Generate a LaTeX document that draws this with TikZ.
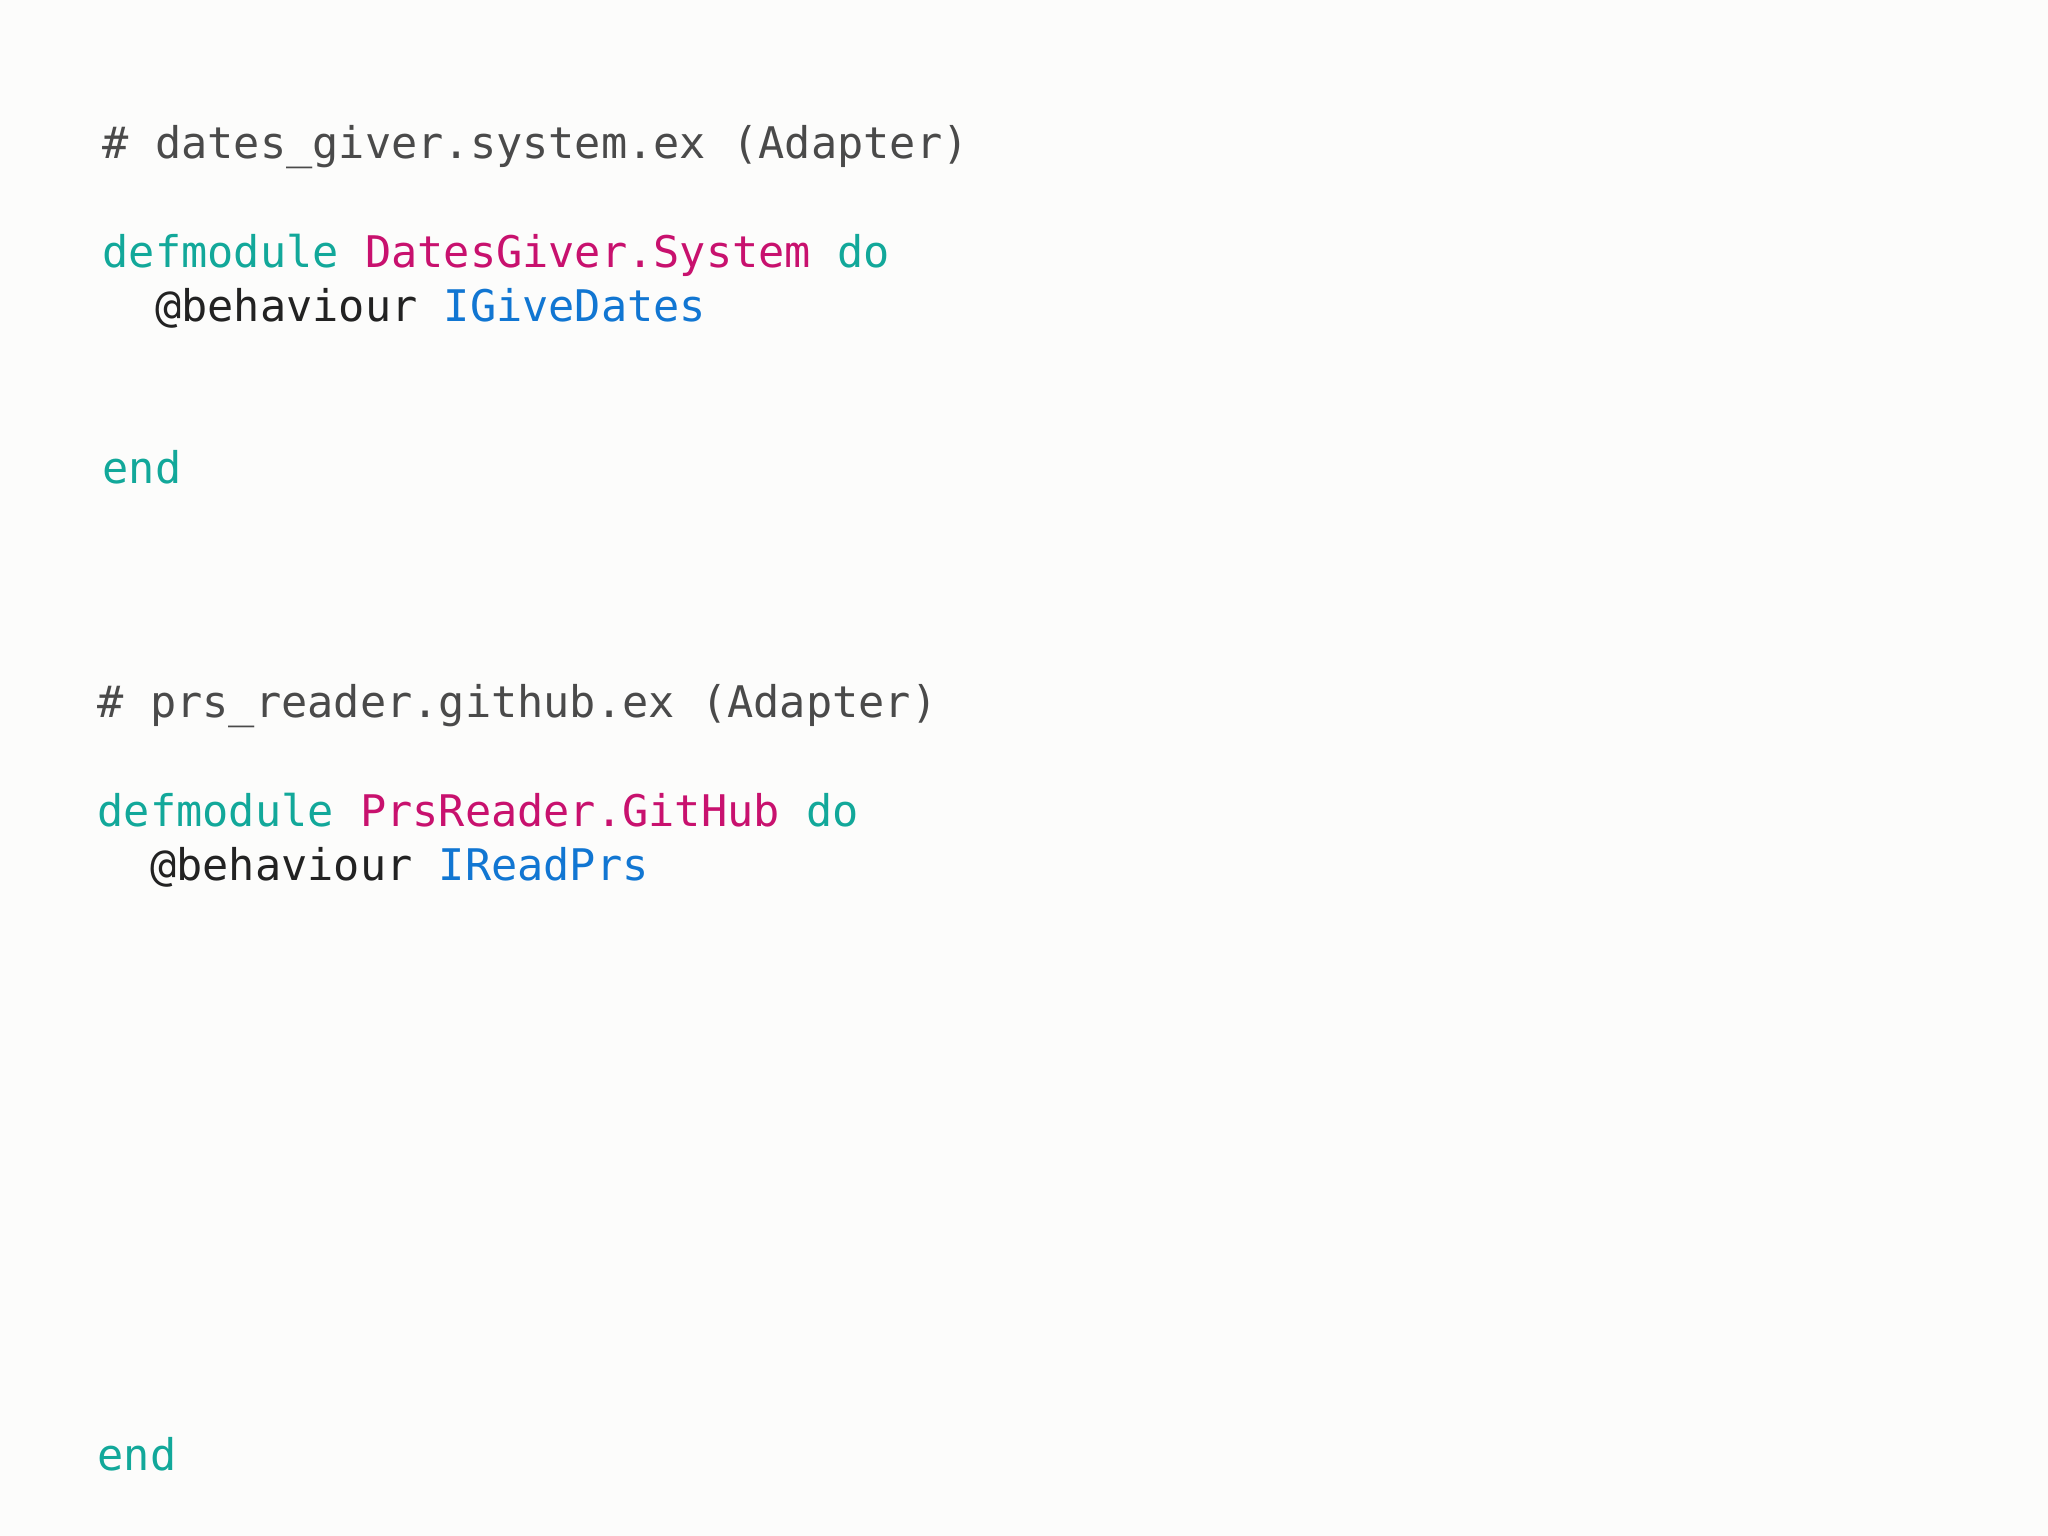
\documentclass[tikz,border=0pt]{standalone}
\usepackage{fontspec}
\setmonofont{DejaVu Sans Mono}
\definecolor{bgc}{HTML}{FCFCFB}
\definecolor{kw}{HTML}{12A89A}
\definecolor{mod}{HTML}{C8116E}
\definecolor{beh}{HTML}{1176D2}
\definecolor{cmt}{HTML}{4A4A4A}
\definecolor{txt}{HTML}{222222}
\begin{document}
\begin{tikzpicture}[x=1cm,y=1cm,
  code/.style={anchor=base west,inner sep=0pt,font=\ttfamily\fontsize{12.4}{14}\selectfont}]
\fill[bgc] (0,0) rectangle (20.48,-15.36);
\useasboundingbox (0,0) rectangle (20.48,-15.36);
\node[code,text=cmt] (c1) at (1.02,-1.59) {\# dates\_giver.system.ex (Adapter)};
\node[code] (d1) at (1.02,-2.68) {\textcolor{kw}{defmodule} \textcolor{mod}{DatesGiver.System} \textcolor{kw}{do}};
\node[code] (b1) at (1.02,-3.22) {\textcolor{txt}{\ \ @behaviour} \textcolor{beh}{IGiveDates}};
\node[code,text=kw] (e1) at (1.02,-4.84) {end};
\node[code,text=cmt] (c2) at (0.97,-7.18) {\# prs\_reader.github.ex (Adapter)};
\node[code] (d2) at (0.97,-8.27) {\textcolor{kw}{defmodule} \textcolor{mod}{PrsReader.GitHub} \textcolor{kw}{do}};
\node[code] (b2) at (0.97,-8.81) {\textcolor{txt}{\ \ @behaviour} \textcolor{beh}{IReadPrs}};
\node[code,text=kw] (e2) at (0.97,-14.70) {end};
\end{tikzpicture}
\end{document}
